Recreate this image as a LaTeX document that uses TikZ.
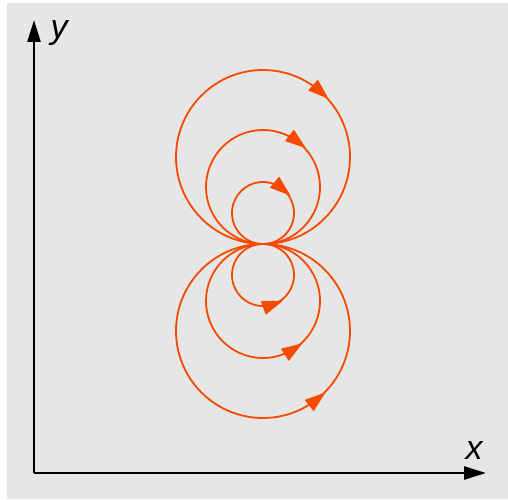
\documentclass[tikz,border=0pt]{standalone}
\usepackage{fontspec}
\setsansfont{Liberation Sans}
\usetikzlibrary{arrows.meta,decorations.markings}
\definecolor{panel}{RGB}{230,230,230}
\definecolor{fieldline}{RGB}{245,74,0}
\begin{document}
\begin{tikzpicture}[x=1pt,y=1pt,
	axis/.style={line width=2.6pt,-{Triangle[length=22pt,width=13pt]}},
	lab/.style={font=\sffamily\itshape\fontsize{34}{34}\selectfont,anchor=base,inner sep=0pt},
	field/.style={draw=fieldline,line width=1.8pt,postaction={decorate},
		decoration={markings,mark=at position 0.5 with {\arrow[fieldline,xshift=10pt]{Triangle[length=21pt,width=14pt]}}}}]
	\useasboundingbox (0,0) rectangle (508,499);
	\fill[panel] (7,0) rectangle (508,496);
	% axes
	\coordinate (o) at (34,26);
	\coordinate (ytip) at (34,479);
	\coordinate (xtip) at (486,26);
	\draw[axis] (o) -- (ytip);
	\draw[axis] (o) -- (xtip);
	\node[lab] (ylab) at (59,460) {y};
	\node[lab] (xlab) at (474,40) {x};
	% field lines through the point p
	\coordinate (p) at (263,255);
	\foreach \r/\t in {31/50,57/52,87/48} \draw[field] ([yshift=\r]p) ++(\t+180:\r) arc[start angle=\t+180,delta angle=-360,radius=\r];
	\foreach \r/\t in {31/-70,57/-57,87/-51} \draw[field] ([yshift=-\r]p) ++(\t+180:\r) arc[start angle=\t+180,delta angle=360,radius=\r];
\end{tikzpicture}
\end{document}
